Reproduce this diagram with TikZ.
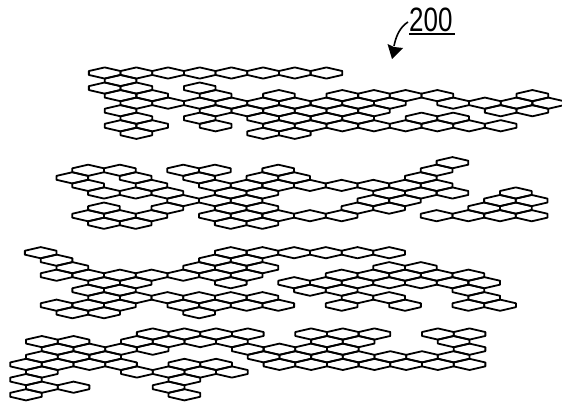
\documentclass[tikz,border=0pt]{standalone}
\usepackage{fontspec}
\setmainfont{Liberation Sans}
\tikzset{hexcell/.style={draw=black,line width=1.8pt,line join=round,fill=none}}
\newcommand{\hexcell}[2]{\draw[hexcell] (#1-15.84,#2-1.95) -- (#1,#2-5.6) -- (#1+15.84,#2-1.95) -- (#1+15.84,#2+1.95) -- (#1,#2+5.6) -- (#1-15.84,#2+1.95) -- cycle;}
% x of column 0, y of row 0, row spacing, rows
\newcommand{\hexband}[4]{%
  \foreach \r/\cs in {#4}{%
    \foreach \c in \cs{%
      \pgfmathsetmacro{\hx}{#1+15.84*\c}%
      \pgfmathsetmacro{\hy}{#2+#3*\r}%
      \hexcell{\hx}{\hy}%
    }%
  }%
}
\begin{document}
\begin{tikzpicture}[x=1pt,y=-1pt]
\useasboundingbox (0,0) rectangle (562,404);
\hexband{104.7}{73}{7.54}{0/{0,2,4,6,8,10,12,14},1/{1},2/{0,2,6},3/{1,3,7,11,15,17,19,21,27},4/{2,4,6,8,10,12,14,16,18,22,24,26,28},5/{1,7,9,11,13,15,17,25,27},6/{2,6,10,12,14,16,20,22},7/{1,3,7,11,13,15,17,19,21,23,25},8/{2,10,12}}
\hexband{72.3}{162.7}{7.57}{0/{24},1/{1,3,7,9,13,23},2/{0,4,8,12,14,22},3/{1,5,9,11,13,15,17,19,21,23},4/{2,4,6,10,12,20,22,24,28},5/{7,9,11,19,21,27,29},6/{2,6,10,12,18,20,26,28},7/{1,3,5,9,11,13,15,17,23,25,27,29},8/{2,4,10,12}}
\hexband{40.7}{252.7}{7.5}{0/{0,12,14,16,18,20,22},1/{1,11,13},2/{2,10,12,14,22,24},3/{1,3,5,7,9,11,13,19,21,23,25,27},4/{4,6,12,16,18,20,22,24,26,28},5/{3,5,17,19,27},6/{4,6,8,10,12,14,20,22,28},7/{1,3,5,9,11,13,15,19,23,27,29},8/{2,4,10}}
\hexband{26}{334}{7.6}{0/{8,10,12,14,18,20,22,26,28},1/{1,3,7,9,11,13,19,21,27},2/{2,4,6,8,14,16,18,20,28},3/{1,3,5,15,17,19,21,23,25,27},4/{0,2,4,6,10,12,16,18,20,22,24,26,28},5/{1,7,9,11,13},6/{0,10},7/{1,3,9},8/{0,10}}
% reference mark
\node (lbl) [inner sep=0pt,anchor=base west] at (409,31.5) {\scalebox{1}[1.3]{\fontsize{26}{26}\selectfont 200}};
\coordinate (ua) at (409,34.5);
\coordinate (ub) at (455,34.5);
\draw[line width=2pt] (ua) -- (ub);
\coordinate (as) at (408,22);
\coordinate (at) at (392,59);
\draw[line width=1.6pt] (as) .. controls (400,27) and (396,36) .. (394,46);
\fill (at) -- (387.5,44) -- (394,47) -- (403,48) -- cycle;
\end{tikzpicture}
\end{document}
